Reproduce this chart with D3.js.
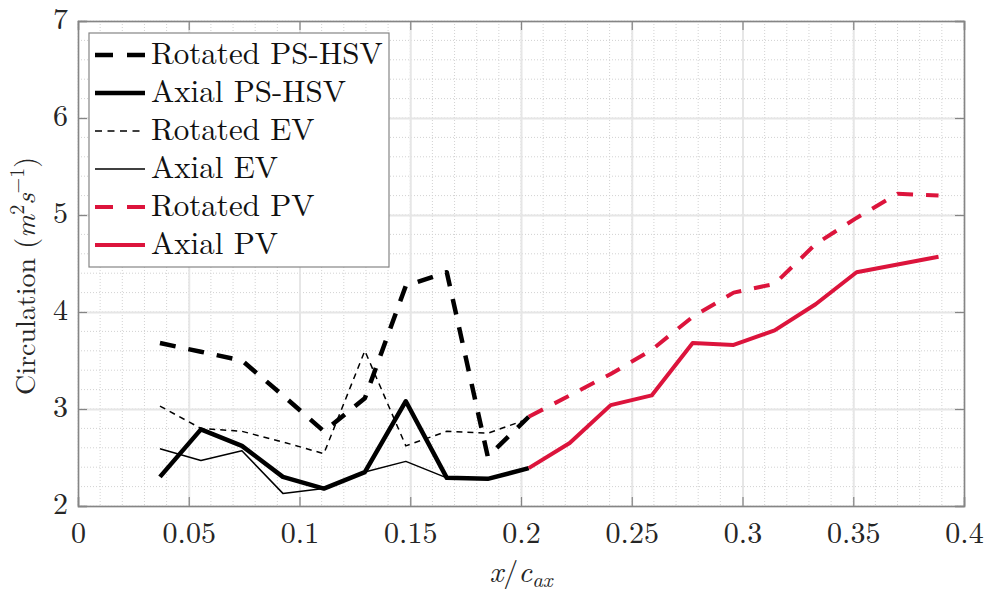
<!DOCTYPE html>
<html>
<head>
<meta charset="utf-8">
<script src="https://cdn.jsdelivr.net/npm/d3@7"></script>
<style>
  body { margin: 0; background: #fff; }
</style>
</head>
<body>
<div id="chart"></div>
<script>
// Data
//= ================================
var xPS = [0.037, 0.0555, 0.074, 0.0925, 0.111, 0.1295, 0.148, 0.1665, 0.185, 0.2035];
var xEV = [0.037, 0.0555, 0.074, 0.0925, 0.111, 0.1295, 0.148, 0.1665];
var xPV = [0.2035, 0.222, 0.2405, 0.259, 0.2775, 0.296, 0.3145, 0.333, 0.3515, 0.37, 0.3885];

var rotatedPSHSV = [3.68, 3.59, 3.50, 3.14, 2.77, 3.11, 4.27, 4.41, 2.51, 2.92];
var axialPSHSV = [2.30, 2.79, 2.62, 2.30, 2.18, 2.35, 3.08, 2.29, 2.28, 2.39];
var rotatedEV = [3.03, 2.80, 2.77, 2.66, 2.54, 3.60, 2.62, 2.77, 2.75, 2.90];
var axialEV = [2.59, 2.47, 2.57, 2.13, 2.18, 2.35, 2.46, 2.29];
var rotatedPV = [2.92, 3.14, 3.36, 3.61, 3.95, 4.20, 4.29, 4.70, 4.97, 5.22, 5.20];
var axialPV = [2.39, 2.65, 3.04, 3.14, 3.68, 3.66, 3.81, 4.08, 4.41, 4.49, 4.57];

var xTicks = [0, 0.05, 0.1, 0.15, 0.2, 0.25, 0.3, 0.35, 0.4];
var yTicks = [2, 3, 4, 5, 6, 7];
var legendLabels = ["Rotated PS-HSV", "Axial PS-HSV", "Rotated EV", "Axial EV", "Rotated PV", "Axial PV"];

var red = "#dc143c";
var font = "\"Latin Modern Roman\", \"CMU Serif\", \"Liberation Serif\", serif";

// Step 1: chart size
//= ================================
var svgWidth = 988;
var svgHeight = 592;
var margin = { top: 21, right: 24, bottom: 86, left: 78 };
var width = svgWidth - margin.left - margin.right;
var height = svgHeight - margin.top - margin.bottom;

var svg = d3.select("#chart")
  .append("svg")
  .attr("width", svgWidth)
  .attr("height", svgHeight);

var chartGroup = svg.append("g")
  .attr("transform", `translate(${margin.left}, ${margin.top})`);

// Step 2: scales
var xScale = d3.scaleLinear().domain([0, 0.4]).range([0, width]);
var yScale = d3.scaleLinear().domain([2, 7]).range([height, 0]);

// Step 3: grid (minor dotted, major solid)
var minorX = d3.range(0, 0.4001, 0.01);
var minorY = d3.range(2, 7.001, 0.2);

chartGroup.append("g").selectAll("line")
  .data(minorX)
  .enter().append("line")
  .attr("x1", d => xScale(d)).attr("x2", d => xScale(d))
  .attr("y1", 0).attr("y2", height)
  .attr("stroke", "#d2d2d2").attr("stroke-width", 1).attr("stroke-dasharray", "1,2");

chartGroup.append("g").selectAll("line")
  .data(minorY)
  .enter().append("line")
  .attr("y1", d => yScale(d)).attr("y2", d => yScale(d))
  .attr("x1", 0).attr("x2", width)
  .attr("stroke", "#d2d2d2").attr("stroke-width", 1).attr("stroke-dasharray", "1,2");

chartGroup.append("g")
  .call(d3.axisBottom(xScale).tickValues(xTicks).tickSize(-height).tickFormat(""))
  .call(g => g.select(".domain").remove())
  .attr("transform", `translate(0, ${height})`)
  .selectAll("line").attr("stroke", "#e6e6e6").attr("stroke-width", 2);

chartGroup.append("g")
  .call(d3.axisLeft(yScale).tickValues(yTicks).tickSize(-width).tickFormat(""))
  .call(g => g.select(".domain").remove())
  .selectAll("line").attr("stroke", "#e6e6e6").attr("stroke-width", 2);

// Step 4: series lines
var line = d3.line()
  .x(d => xScale(d[0]))
  .y(d => yScale(d[1]));

var series = [
  { x: xEV, y: axialEV, color: "#000", w: 1.5, dash: null },
  { x: xPS, y: rotatedEV, color: "#000", w: 1.5, dash: "6,5" },
  { x: xPS, y: axialPSHSV, color: "#000", w: 4.5, dash: null },
  { x: xPS, y: rotatedPSHSV, color: "#000", w: 4.5, dash: "16,13" },
  { x: xPV, y: axialPV, color: red, w: 4, dash: null },
  { x: xPV, y: rotatedPV, color: red, w: 4, dash: "16,13" }
];

series.forEach(function(s) {
  chartGroup.append("path")
    .datum(d3.zip(s.x, s.y))
    .attr("d", line)
    .attr("fill", "none")
    .attr("stroke", s.color)
    .attr("stroke-width", s.w)
    .attr("stroke-linejoin", "round")
    .attr("stroke-dasharray", s.dash);
});

// Step 5: axes box, inward ticks on all sides
var axisColor = "#858585";
var tickLen = 9;

var bottomAxis = chartGroup.append("g")
  .attr("transform", `translate(0, ${height})`)
  .call(d3.axisBottom(xScale).tickValues(xTicks).tickSize(-tickLen).tickFormat(d3.format("")));
var topAxis = chartGroup.append("g")
  .call(d3.axisTop(xScale).tickValues(xTicks).tickSize(-tickLen).tickFormat(""));
var leftAxis = chartGroup.append("g")
  .call(d3.axisLeft(yScale).tickValues(yTicks).tickSize(-tickLen).tickFormat(d3.format("d")));
var rightAxis = chartGroup.append("g")
  .attr("transform", `translate(${width}, 0)`)
  .call(d3.axisRight(yScale).tickValues(yTicks).tickSize(-tickLen).tickFormat(""));

[bottomAxis, topAxis, leftAxis, rightAxis].forEach(function(a) {
  a.select(".domain").attr("stroke", axisColor).attr("stroke-width", 1.5);
  a.selectAll(".tick line").attr("stroke", axisColor).attr("stroke-width", 1.2);
});

bottomAxis.selectAll(".tick text")
  .style("font-family", font)
  .style("font-size", "30px")
  .attr("fill", "#262626")
  .attr("y", 37)
  .attr("dy", 0);

leftAxis.selectAll(".tick text")
  .style("font-family", font)
  .style("font-size", "30px")
  .attr("fill", "#262626")
  .attr("x", -10)
  .attr("dy", "0.25em");

// Step 6: axis labels
var xLabel = chartGroup.append("text")
  .attr("x", width / 2)
  .attr("y", height + 76)
  .attr("text-anchor", "middle")
  .attr("fill", "#262626")
  .style("font-family", font)
  .style("font-size", "30px");
xLabel.append("tspan").style("font-style", "italic").text("x");
xLabel.append("tspan").text("/");
xLabel.append("tspan").style("font-style", "italic").text("c");
xLabel.append("tspan").style("font-style", "italic").style("font-size", "21px").attr("dy", 5).text("ax");

var yLabel = svg.append("text")
  .attr("transform", "translate(35, 395) rotate(-90)")
  .attr("text-anchor", "start")
  .attr("fill", "#262626")
  .style("font-family", font)
  .style("font-size", "28px");
yLabel.append("tspan").text("Circulation (");
yLabel.append("tspan").style("font-style", "italic").text("m");
yLabel.append("tspan").style("font-size", "20px").attr("dy", -11).text("2");
yLabel.append("tspan").style("font-style", "italic").attr("dy", 11).text("s");
yLabel.append("tspan").style("font-size", "20px").attr("dy", -11).text("\u22121");
yLabel.append("tspan").attr("dy", 11).text(")");

// Step 7: legend
var legendStyles = [series[3], series[2], series[1], series[0], series[5], series[4]];
var legend = svg.append("g").attr("transform", "translate(89, 33)");

legend.append("rect")
  .attr("width", 300)
  .attr("height", 234)
  .attr("fill", "#fff")
  .attr("stroke", axisColor)
  .attr("stroke-width", 1.2);

var rowScale = d3.scaleLinear().domain([0, 5]).range([22, 212]);

legend.selectAll(".legend-line")
  .data(legendStyles)
  .enter().append("line")
  .attr("x1", 6).attr("x2", 56)
  .attr("y1", (d, i) => rowScale(i)).attr("y2", (d, i) => rowScale(i))
  .attr("stroke", d => d.color)
  .attr("stroke-width", d => d.w)
  .attr("stroke-dasharray", d => d.dash === "6,5" ? "7,5.5" : d.dash === null ? null : "18,14");

legend.selectAll(".legend-text")
  .data(legendLabels)
  .enter().append("text")
  .attr("x", 62)
  .attr("y", (d, i) => rowScale(i))
  .attr("dy", "0.3em")
  .attr("fill", "#111")
  .style("font-family", font)
  .style("font-size", "31px")
  .text(d => d);
</script>
</body>
</html>
